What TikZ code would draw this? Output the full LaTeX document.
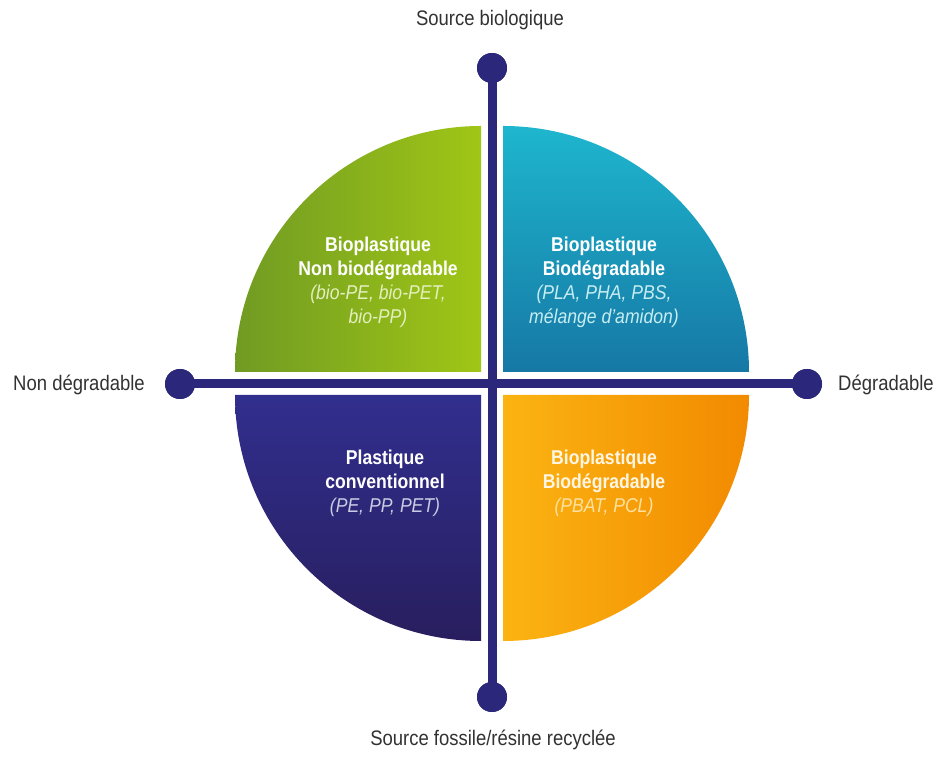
\documentclass[tikz,border=0pt]{standalone}
\usepackage{fontspec}
\setmainfont{Liberation Sans}[FakeStretch=0.88]
\definecolor{axiscol}{RGB}{43,39,122}
\definecolor{labgray}{RGB}{50,50,50}
\definecolor{grA}{RGB}{112,155,35}
\definecolor{grB}{RGB}{160,198,22}
\definecolor{blA}{RGB}{30,182,206}
\definecolor{blB}{RGB}{22,120,165}
\definecolor{nvA}{RGB}{49,47,142}
\definecolor{nvB}{RGB}{40,30,94}
\definecolor{orA}{RGB}{251,180,18}
\definecolor{orB}{RGB}{242,138,0}
\tikzset{
  axisline/.style={draw=axiscol, line width=9pt},
  axisdot/.style={circle, fill=axiscol, minimum size=30pt, inner sep=0pt},
  sidelabel/.style={text=labgray, font=\fontsize{21}{25}\selectfont},
  quadtext/.style={text=white, align=center, font=\fontsize{20}{24}\selectfont},
}
\newcommand{\hd}[1]{\textbf{#1}}
\begin{document}
\begin{tikzpicture}[x=1pt,y=1pt]
\useasboundingbox (0,0) rectangle (937,759);
\fill[white] (0,0) rectangle (937,759);
% quadrants
\shade[left color=grA, right color=grB]
  (481,387) -- (235,387) arc[start angle=180, end angle=90, radius=246pt] -- cycle;
\shade[top color=blA, bottom color=blB]
  (503,387) -- (503,633) arc[start angle=90, end angle=0, radius=246pt] -- cycle;
\shade[top color=nvA, bottom color=nvB]
  (481,364) -- (481,118) arc[start angle=270, end angle=180, radius=246pt] -- cycle;
\shade[left color=orA, right color=orB]
  (503,364) -- (749,364) arc[start angle=0, end angle=-90, radius=246pt] -- cycle;
% axes
\node[axisdot] (top) at (492,691) {};
\node[axisdot] (bot) at (492,62) {};
\node[axisdot] (lft) at (180,375) {};
\node[axisdot] (rgt) at (807,375) {};
\draw[axisline] (top.center) -- (bot.center);
\draw[axisline] (lft.center) -- (rgt.center);
\node[axisdot] at (top.center) {};
\node[axisdot] at (bot.center) {};
\node[axisdot] at (lft.center) {};
\node[axisdot] at (rgt.center) {};
% labels
\node[sidelabel] (lt) at (490,739) {Source biologique};
\node[sidelabel] (lb) at (493,19) {Source fossile/résine recyclée};
\node[sidelabel] (ll) at (79,374) {Non dégradable};
\node[sidelabel] (lr) at (886,374) {Dégradable};
% quadrant texts
\node[quadtext] (qg) at (378,477) {\hd{Bioplastique}\\\hd{Non biodégradable}\\
  \textcolor{white!72!grB}{\itshape (bio-PE, bio-PET,}\\\textcolor{white!72!grB}{\itshape bio-PP)}};
\node[quadtext] (qb) at (604,477) {\hd{Bioplastique}\\\hd{Biodégradable}\\
  \textcolor{white!75!blA}{\itshape (PLA, PHA, PBS,}\\\textcolor{white!75!blA}{\itshape mélange d'amidon)}};
\node[quadtext] (qn) at (385,276) {\hd{Plastique}\\\hd{conventionnel}\\
  \textcolor{white!75!nvA}{\itshape (PE, PP, PET)}};
\node[quadtext, text=white!88!orA] (qo) at (604,276) {\hd{Bioplastique}\\\hd{Biodégradable}\\
  \textcolor{white!60!orA}{\itshape (PBAT, PCL)}};
\end{tikzpicture}
\end{document}
